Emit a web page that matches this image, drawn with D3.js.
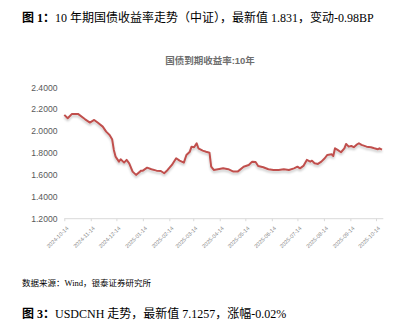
<!DOCTYPE html>
<html>
<head>
<meta charset="utf-8">
<script src="https://cdn.jsdelivr.net/npm/d3@7"></script>
<style>
  html, body { margin: 0; padding: 0; background: #fff; }
  svg { display: block; }
</style>
</head>
<body>
<div id="chart"></div>
<script>
// 10年期国债收益率 (中证)
const dates = [
  '2024-10-14', '2024-10-18', '2024-10-23', '2024-10-30', '2024-11-07', '2024-11-13',
  '2024-11-18', '2024-11-22', '2024-11-28', '2024-12-02', '2024-12-06', '2024-12-09',
  '2024-12-11', '2024-12-13', '2024-12-17', '2024-12-19', '2024-12-23', '2024-12-26',
  '2024-12-29', '2025-01-02', '2025-01-06', '2025-01-12', '2025-01-14', '2025-01-19',
  '2025-01-24', '2025-01-30', '2025-02-04', '2025-02-08', '2025-02-12', '2025-02-17',
  '2025-02-22', '2025-02-26', '2025-03-03', '2025-03-06', '2025-03-10', '2025-03-12',
  '2025-03-15', '2025-03-18', '2025-03-20', '2025-03-25', '2025-03-29', '2025-04-02',
  '2025-04-04', '2025-04-07', '2025-04-12', '2025-04-18', '2025-04-24', '2025-04-30',
  '2025-05-05', '2025-05-12', '2025-05-18', '2025-05-22', '2025-05-26', '2025-05-29',
  '2025-06-04', '2025-06-10', '2025-06-16', '2025-06-22', '2025-06-28', '2025-07-04',
  '2025-07-10', '2025-07-14', '2025-07-17', '2025-07-21', '2025-07-25', '2025-07-29',
  '2025-07-31', '2025-08-03', '2025-08-07', '2025-08-11', '2025-08-15', '2025-08-18',
  '2025-08-23', '2025-08-25', '2025-08-27', '2025-08-30', '2025-09-03', '2025-09-07',
  '2025-09-09', '2025-09-12', '2025-09-15', '2025-09-18', '2025-09-21', '2025-09-24',
  '2025-09-27', '2025-10-03', '2025-10-08', '2025-10-12', '2025-10-16', '2025-10-18',
  '2025-10-21'
];
const yields = [
  2.148, 2.117, 2.157, 2.157, 2.110, 2.078,
  2.102, 2.078, 2.041, 1.995, 1.965, 1.926,
  1.828, 1.767, 1.721, 1.743, 1.712, 1.737,
  1.706, 1.630, 1.600, 1.639, 1.639, 1.666,
  1.652, 1.639, 1.636, 1.615, 1.645, 1.691,
  1.752, 1.730, 1.712, 1.782, 1.812, 1.858,
  1.853, 1.889, 1.843, 1.822, 1.812, 1.803,
  1.675, 1.645, 1.652, 1.660, 1.652, 1.630,
  1.630, 1.675, 1.691, 1.721, 1.718, 1.682,
  1.670, 1.652, 1.645, 1.645, 1.652, 1.645,
  1.660, 1.675, 1.660, 1.682, 1.737, 1.721,
  1.730, 1.706, 1.700, 1.721, 1.752, 1.782,
  1.788, 1.773, 1.843, 1.828, 1.807, 1.843,
  1.883, 1.858, 1.864, 1.853, 1.874, 1.889,
  1.874, 1.858, 1.853, 1.843, 1.834, 1.843,
  1.831
];
const yTicks = [1.2, 1.4, 1.6, 1.8, 2.0, 2.2, 2.4];
const xTicks = [
  '2024-10-14', '2024-11-14', '2024-12-14', '2025-01-14', '2025-02-14', '2025-03-14',
  '2025-04-14', '2025-05-14', '2025-06-14', '2025-07-14', '2025-08-14', '2025-09-14',
  '2025-10-14'
];

const W = 407, H = 326;
const parse = d3.timeParse('%Y-%m-%d');
const data = dates.map((d, i) => ({ date: parse(d), value: yields[i] }));

const svg = d3.select('#chart').append('svg')
  .attr('width', W)
  .attr('height', H);

const defs = svg.append('defs');
const shadow = defs.append('filter')
  .attr('id', 'shadow')
  .attr('x', '-5%').attr('y', '-20%')
  .attr('width', '110%').attr('height', '140%');
shadow.append('feDropShadow')
  .attr('dx', 0).attr('dy', 2)
  .attr('stdDeviation', 1.3)
  .attr('flood-color', '#000')
  .attr('flood-opacity', 0.22);

const serif = '"Liberation Serif", "Noto Sans CJK SC", serif';
const sans = '"Liberation Sans", Arial, "Noto Sans CJK SC", sans-serif';

// Figure caption
const cap1 = svg.append('text')
  .attr('x', 22).attr('y', 21.5)
  .style('font-family', serif)
  .style('font-size', '12px')
  .attr('fill', '#000');
cap1.append('tspan').style('font-weight', 'bold').text('图 1：');
cap1.append('tspan').text('10 年期国债收益率走势（中证），最新值 1.831，变动-0.98BP');

// Chart title
svg.append('text')
  .attr('x', 210).attr('y', 63.5)
  .attr('text-anchor', 'middle')
  .style('font-family', sans)
  .style('font-size', '9.5px')
  .style('font-weight', 'bold')
  .attr('fill', '#6e6e6e')
  .text('国债到期收益率:10年');

// Scales
const x = d3.scaleTime()
  .domain([parse('2024-10-14'), parse('2025-10-14')])
  .range([64.3, 376]);
const y = d3.scaleLinear()
  .domain([1.2, 2.4])
  .range([218.7, 87.3]);

// Y axis (labels only)
const yAxis = svg.append('g')
  .attr('transform', 'translate(57.5,0)')
  .call(d3.axisLeft(y).tickValues(yTicks).tickFormat(d3.format('.4f')).tickSize(0).tickPadding(0));
yAxis.select('.domain').remove();
yAxis.selectAll('text')
  .style('font-family', sans)
  .style('font-size', '8.6px')
  .attr('fill', '#595959');

// X axis
const xAxis = svg.append('g')
  .attr('transform', `translate(0,${y(1.2)})`)
  .call(d3.axisBottom(x).tickValues(xTicks.map(parse)).tickSizeInner(2.5).tickSizeOuter(0)
    .tickFormat(d3.timeFormat('%Y-%m-%d')));
xAxis.select('.domain')
  .attr('d', `M${x.range()[0]},0H383.3`)
  .attr('stroke', '#d9d9d9');
xAxis.selectAll('.tick line').attr('stroke', '#d9d9d9');
xAxis.selectAll('.tick text')
  .style('font-family', sans)
  .style('font-size', '5.5px')
  .attr('fill', '#7f7f7f')
  .attr('text-anchor', 'end')
  .attr('y', 0)
  .attr('dy', 0)
  .attr('transform', 'translate(4,10) rotate(-45)');

// Line
const line = d3.line()
  .x(d => x(d.date))
  .y(d => y(d.value));

svg.append('path')
  .datum(data)
  .attr('d', line)
  .attr('fill', 'none')
  .attr('stroke', '#c0504d')
  .attr('stroke-width', 2)
  .attr('stroke-linejoin', 'round')
  .attr('filter', 'url(#shadow)');

// Source note
svg.append('text')
  .attr('x', 22).attr('y', 285.5)
  .style('font-family', serif)
  .style('font-size', '8.5px')
  .attr('fill', '#000')
  .text('数据来源：Wind，银泰证券研究所');

// Next figure caption
const cap3 = svg.append('text')
  .attr('x', 22).attr('y', 317.5)
  .style('font-family', serif)
  .style('font-size', '12px')
  .attr('fill', '#000');
cap3.append('tspan').style('font-weight', 'bold').text('图 3：');
cap3.append('tspan').text('USDCNH 走势，最新值 7.1257，涨幅-0.02%');
</script>
</body>
</html>
